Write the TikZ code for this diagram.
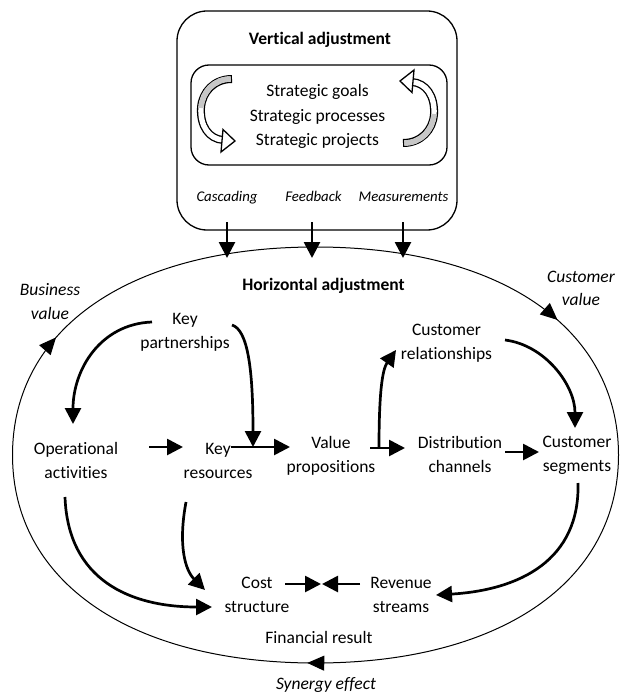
\documentclass[tikz,border=0pt]{standalone}
\usepackage{fontspec}
\setmainfont{Carlito}[Ligatures=NoCommon]
\usetikzlibrary{arrows.meta,decorations.markings}
\begin{document}
\begin{tikzpicture}[x=1pt,y=-1pt,
  lbl/.style={inner sep=0pt, align=center, anchor=base, font=\fontsize{17.5}{24.5}\selectfont},
  lblb/.style={lbl, font=\fontsize{17.5}{24.5}\selectfont\bfseries},
  lbli/.style={lbl, font=\fontsize{17.5}{23.5}\selectfont\itshape},
  lbls/.style={lbl, font=\fontsize{14.8}{18}\selectfont\itshape},
  arr/.style={line width=2.7pt, -{Triangle[length=16pt,width=16pt]}},
  boxst/.style={draw, line width=1.3pt, inner sep=0pt},
  ring/.style={line width=1pt},
  ringhead/.style={decoration={markings,
     mark=at position 0.157 with {\arrow{Triangle[length=17pt,width=15pt]}},
     mark=at position 0.505 with {\arrow{Triangle[length=17pt,width=15pt]}},
     mark=at position 0.828 with {\arrow{Triangle[length=17pt,width=15pt]}}},
     postaction={decorate}}
]
\useasboundingbox (0,0) rectangle (620,695);

% top boxes
\node[boxst, rounded corners=30pt, minimum width=280pt, minimum height=219pt] (vbox) at (317,120.5) {};
\node[boxst, rounded corners=18pt, minimum width=256pt, minimum height=100pt] (ibox) at (319,115) {};

\node[lblb] (va) at (320,45) {Vertical adjustment};
\node[lbl] (sg) at (317.5,146) {Strategic goals\\Strategic processes\\Strategic projects};
\node[lbls] (casc) at (227,201.5) {Cascading};
\node[lbls] (fb) at (313.5,201.5) {Feedback};
\node[lbls] (meas) at (403.5,201.5) {Measurements};

% curved block arrows
\foreach \r in {0,180}{
\begin{scope}[rotate around={\r:(317.5,111)}]
  \draw[line width=8pt, black] (232,79) .. controls (214,79) and (202,92) .. (201,108) .. controls (200,126) and (209,139) .. (223,140);
  \draw[line width=5.4pt, white, shorten <=1.3pt] (232,79) .. controls (214,79) and (202,92) .. (201,108) .. controls (200,126) and (209,139) .. (223,140);
  \draw[line width=5.4pt, black!22, shorten <=1.3pt] (232,79) .. controls (214,79) and (202,92) .. (201,108);
  \draw[line width=1.3pt, fill=white, line join=miter] (235,141) -- (223,129.5) -- (221,152) -- cycle;
\end{scope}}

% ring
\draw[ring, ringhead] (315.5,247) .. controls (500.3,247) and (618.5,328.1) .. (618.5,455)
  .. controls (618.5,581.9) and (500.3,663) .. (315.5,663)
  .. controls (130.7,663) and (12.5,581.9) .. (12.5,455)
  .. controls (12.5,328.1) and (130.7,247) .. (315.5,247) -- cycle;

% labels (base = baseline of last line)
\node[lblb] (ha) at (323.5,290) {Horizontal adjustment};
\node[lbli] (bv) at (50,319) {Business\\value};
\node[lbli] (cv) at (581,305.5) {Customer\\value};
\node[lbl] (kp) at (185,348.5) {Key\\partnerships};
\node[lbl] (oa) at (76,478.5) {Operational\\activities};
\node[lbl] (kr) at (218,478.5) {Key\\resources};
\node[lbl] (vp) at (331,472.5) {Value\\propositions};
\node[lbl] (cr) at (446.5,359.5) {Customer\\relationships};
\node[lbl] (dc) at (460,472.5) {Distribution\\channels};
\node[lbl] (cs) at (577,471.5) {Customer\\segments};
\node[lbl] (cst) at (257,612.5) {Cost\\structure};
\node[lbl] (rs) at (401,612.5) {Revenue\\streams};
\node[lbl] (fr) at (319,643) {Financial result};
\node[lbli] (se) at (326,689) {Synergy effect};

% vertical arrows
\draw[arr] ([shift={(0,20.5)}]casc.base) -- ([shift={(-96.5,-32)}]ha.base);
\draw[arr] ([shift={(-1.5,20.5)}]fb.base) -- ([shift={(-11.5,-32)}]ha.base);
\draw[arr] ([shift={(-0.5,20.5)}]meas.base) -- ([shift={(79.5,-32)}]ha.base);

% connectors
\draw[arr] ([shift={(-33,-26.5)}]kp.base) .. controls +(-52,2) and +(0,-54) .. ([shift={(-3,-54.5)}]oa.base);
\draw[arr] ([shift={(47,-23.5)}]kp.base) .. controls +(16,5) and +(0,-77) .. ([shift={(35,-31.5)}]kr.base);
\draw[arr] ([shift={(73,-31.5)}]oa.base) -- ([shift={(-35,-31.5)}]kr.base);
\draw[arr] ([shift={(13,-31.5)}]kr.base) -- ([shift={(-41,-25.5)}]vp.base);
\draw[arr] ([shift={(48,-24.5)}]vp.base) .. controls +(0,-53) and +(-14,20) .. ([shift={(-50.5,-9.5)}]cr.base);
\draw[arr] ([shift={(39,-24.5)}]vp.base) -- ([shift={(-55,-24.5)}]dc.base);
\draw[arr] ([shift={(58.5,-19.5)}]cr.base) .. controls +(40,5) and +(0,-43) .. ([shift={(-2,-43.5)}]cs.base);
\draw[arr] ([shift={(45,-20.5)}]dc.base) -- ([shift={(-38,-19.5)}]cs.base);
\draw[arr] ([shift={(1,11.5)}]cs.base) .. controls +(2,77) and +(84,-5) .. ([shift={(35,-17.5)}]rs.base);
\draw[arr] ([shift={(-41,-28.5)}]rs.base) -- ([shift={(65,-28.5)}]cst.base);
\draw[arr] ([shift={(28,-28.5)}]cst.base) -- ([shift={(-80,-28.5)}]rs.base);
\draw[arr] ([shift={(-11,18.5)}]oa.base) .. controls +(3,83) and +(-82,0) .. ([shift={(-45,-5.5)}]cst.base);
\draw[arr] ([shift={(-32,23.5)}]kr.base) .. controls +(-8,43) and +(-20,-20) .. ([shift={(-52,-22.5)}]cst.base);
\end{tikzpicture}
\end{document}
